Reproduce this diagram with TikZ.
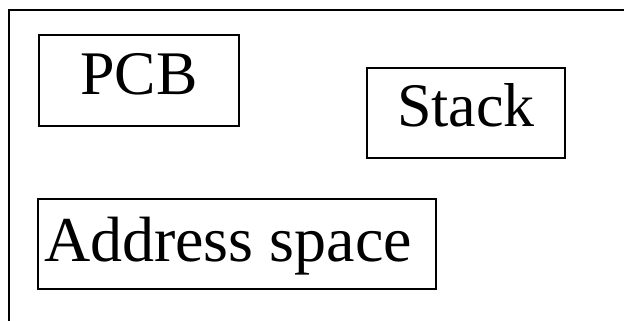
\documentclass[tikz,border=0pt]{standalone}
\usepackage{fontspec}
\setmainfont{Liberation Serif}
\newfontfamily\partfont{Liberation Serif}

\begin{document}
\begin{tikzpicture}[x=1pt, y=-1pt, line width=1.2pt,
  every node/.style={font=\partfont\fontsize{62}{70}\selectfont},
  part/.style={draw, inner sep=0pt, line width=1.2pt}]

\useasboundingbox (0,0) rectangle (624,321);

% Outer frame (cut off on the right and at the bottom)
\draw (9,321) -- (9,10) -- (624,10);

% Parts of the process
\node[part, minimum width=200pt, text height=60pt, text depth=31pt] (pcb) at (139,80.5) {PCB};
\node[part, minimum width=198pt, text height=58pt, text depth=32pt] (stack) at (466,113) {Stack};
\node[part, minimum width=398pt, text height=62pt, text depth=28pt,
  font=\partfont\fontsize{64}{72}\selectfont] (addr) at (237,244) {Address space\kern18pt\null};

\end{tikzpicture}
\end{document}
